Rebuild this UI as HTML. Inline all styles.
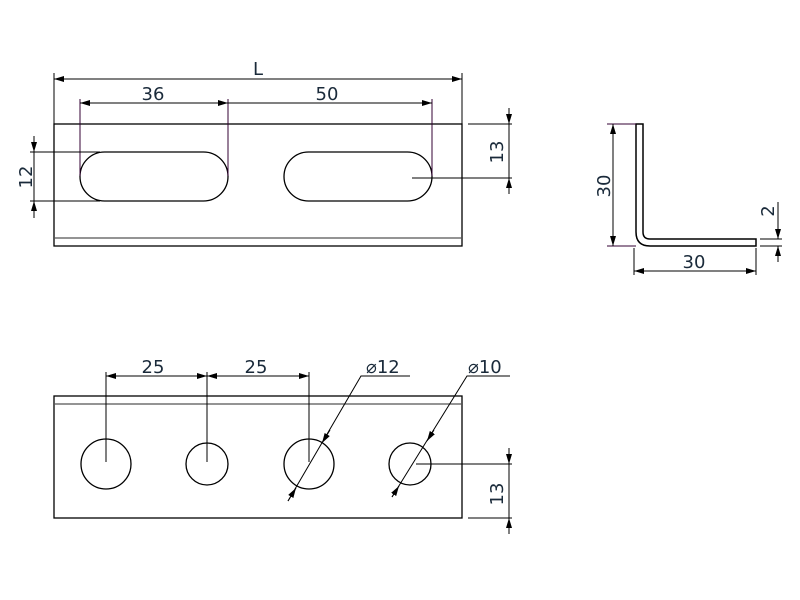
<!DOCTYPE html>
<html><head><style>body{margin:0;background:#fff}svg{display:block}</style></head><body>
<svg width="800" height="600" xmlns="http://www.w3.org/2000/svg" font-family="'DejaVu Sans','Liberation Sans',sans-serif" font-size="18" fill="#1a2a3a">
<defs>
<marker id="a" viewBox="0 0 10 6" refX="10" refY="3" markerWidth="10" markerHeight="6" orient="auto-start-reverse" markerUnits="userSpaceOnUse"><path d="M0,0L10,3L0,6z" fill="#000"/></marker>
</defs>
<g stroke="#000" stroke-width="1.3" fill="none">
<rect x="54" y="124" width="408" height="122"/>
<line x1="54" y1="238" x2="462" y2="238" stroke="#555"/>
<rect x="80" y="152" width="148" height="49" rx="24.5"/>
<rect x="284" y="152" width="148" height="49" rx="24.5"/>
<line x1="54" y1="73" x2="54" y2="124" stroke-width="1"/>
<line x1="462" y1="73" x2="462" y2="124" stroke-width="1"/>
<line x1="54" y1="79" x2="462" y2="79" stroke-width="1" marker-start="url(#a)" marker-end="url(#a)"/>
<line x1="80" y1="99" x2="80" y2="176" stroke="#303" stroke-width="1"/>
<line x1="228" y1="99" x2="228" y2="176" stroke="#303" stroke-width="1"/>
<line x1="432" y1="99" x2="432" y2="176" stroke="#303" stroke-width="1"/>
<line x1="80" y1="103" x2="228" y2="103" stroke-width="1" marker-start="url(#a)" marker-end="url(#a)"/>
<line x1="228" y1="103" x2="432" y2="103" stroke-width="1" marker-end="url(#a)"/>
<line x1="30" y1="152" x2="100" y2="152" stroke-width="1"/>
<line x1="30" y1="201" x2="100" y2="201" stroke-width="1"/>
<line x1="34" y1="136" x2="34" y2="152" stroke-width="1" marker-end="url(#a)"/>
<line x1="34" y1="152" x2="34" y2="201" stroke-width="1"/>
<line x1="34" y1="218" x2="34" y2="201" stroke-width="1" marker-end="url(#a)"/>
<line x1="468" y1="124" x2="512" y2="124" stroke-width="1"/>
<line x1="412" y1="178" x2="512" y2="178" stroke-width="1"/>
<line x1="509" y1="108" x2="509" y2="194" stroke-width="1"/>
<line x1="509" y1="110" x2="509" y2="124" stroke-width="1" marker-end="url(#a)"/>
<line x1="509" y1="192" x2="509" y2="178" stroke-width="1" marker-end="url(#a)"/>
<path d="M636,124 H643 V232 Q643,239 650,239 H756 V246 H650 Q636,246 636,232 Z" stroke-width="1.5"/>
<path d="M636,232 Q636,246 650,246" stroke-width="1"/>
<line x1="607" y1="124" x2="636" y2="124" stroke="#303" stroke-width="1"/>
<line x1="607" y1="246" x2="636" y2="246" stroke="#303" stroke-width="1"/>
<line x1="613" y1="124" x2="613" y2="246" stroke-width="1" marker-start="url(#a)" marker-end="url(#a)"/>
<line x1="634" y1="248" x2="634" y2="275" stroke-width="1"/>
<line x1="756" y1="248" x2="756" y2="275" stroke-width="1"/>
<line x1="634" y1="271" x2="756" y2="271" stroke-width="1" marker-start="url(#a)" marker-end="url(#a)"/>
<line x1="760" y1="239" x2="782" y2="239" stroke-width="1"/>
<line x1="760" y1="246" x2="782" y2="246" stroke-width="1"/>
<line x1="778" y1="202" x2="778" y2="239" stroke-width="1" marker-end="url(#a)"/>
<line x1="778" y1="262" x2="778" y2="246" stroke-width="1" marker-end="url(#a)"/>
<rect x="54" y="396" width="408" height="122"/>
<line x1="54" y1="404" x2="462" y2="404" stroke="#555"/>
<circle cx="106" cy="464" r="25"/>
<circle cx="207" cy="464" r="21"/>
<circle cx="309" cy="464" r="25"/>
<circle cx="410" cy="464" r="21"/>
<line x1="106" y1="372" x2="106" y2="462" stroke-width="1"/>
<line x1="207" y1="372" x2="207" y2="462" stroke-width="1"/>
<line x1="309" y1="372" x2="309" y2="462" stroke-width="1"/>
<line x1="106" y1="376" x2="207" y2="376" stroke-width="1" marker-start="url(#a)" marker-end="url(#a)"/>
<line x1="207" y1="376" x2="309" y2="376" stroke-width="1" marker-start="url(#a)" marker-end="url(#a)"/>
<polyline points="288,501 361,376 410,376" stroke-width="1"/>
<line x1="296" y1="488" x2="288" y2="501" stroke-width="1" marker-start="url(#a)"/>
<line x1="330" y1="430" x2="322" y2="443" stroke-width="1" marker-end="url(#a)"/>
<polyline points="392,497 467,376 510,376" stroke-width="1"/>
<line x1="399" y1="486" x2="392" y2="497" stroke-width="1" marker-start="url(#a)"/>
<line x1="434" y1="430" x2="427" y2="441" stroke-width="1" marker-end="url(#a)"/>
<line x1="416" y1="464" x2="512" y2="464" stroke-width="1"/>
<line x1="468" y1="518" x2="512" y2="518" stroke-width="1"/>
<line x1="509" y1="448" x2="509" y2="534" stroke-width="1"/>
<line x1="509" y1="450" x2="509" y2="464" stroke-width="1" marker-end="url(#a)"/>
<line x1="509" y1="532" x2="509" y2="518" stroke-width="1" marker-end="url(#a)"/>
</g>
<text x="258" y="75" text-anchor="middle">L</text>
<text x="153" y="100" text-anchor="middle">36</text>
<text x="327" y="100" text-anchor="middle">50</text>
<text transform="translate(32,177) rotate(-90)" text-anchor="middle">12</text>
<text transform="translate(503,152) rotate(-90)" text-anchor="middle">13</text>
<text transform="translate(610,186) rotate(-90)" text-anchor="middle">30</text>
<text x="694" y="268" text-anchor="middle">30</text>
<text transform="translate(774,211) rotate(-90)" text-anchor="middle">2</text>
<text x="153" y="373" text-anchor="middle">25</text>
<text x="256" y="373" text-anchor="middle">25</text>
<text x="366" y="373">⌀12</text>
<text x="468" y="373">⌀10</text>
<text transform="translate(503,494) rotate(-90)" text-anchor="middle">13</text>
</svg>
</body></html>
